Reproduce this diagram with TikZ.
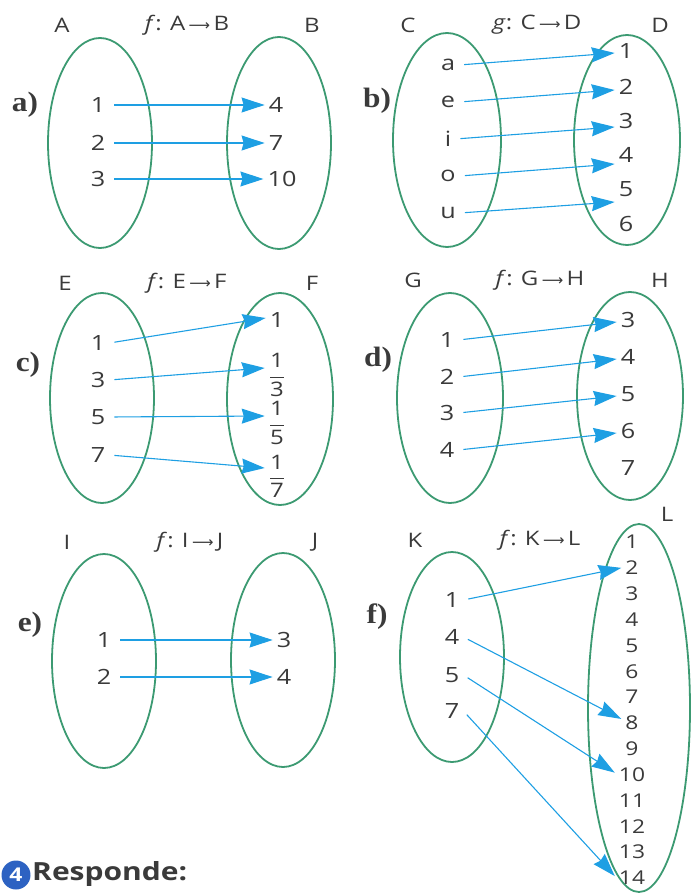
\documentclass[tikz,border=0pt]{standalone}
\usepackage{fontspec}
\setmainfont{Open Sans}[FakeStretch=1.2]
\newfontfamily\symfont{DejaVu Sans}
\newfontfamily\partfont{Liberation Serif}[FakeStretch=1.12]
\usetikzlibrary{arrows.meta,shapes.geometric}
\definecolor{ell}{HTML}{3C9A72}
\definecolor{arr}{HTML}{1E9FE3}
\definecolor{txt}{HTML}{3A3A3A}
\definecolor{badge}{HTML}{2D62C2}
\newcommand{\fnar}{\,{\symfont\fontsize{15}{15}\selectfont ⟶}\,}
\newcommand{\myfr}[2]{$\displaystyle\frac{\hbox{#1}}{\hbox{#2}}$}
\begin{document}
\begin{tikzpicture}[x=1pt,y=-1pt,
  setell/.style={ellipse, draw=ell, line width=1.8pt, inner sep=0pt},
  el/.style={font=\fontsize{21}{22}\selectfont, text=txt, inner xsep=4pt, inner ysep=1pt},
  fr/.style={font=\fontsize{20}{21}\selectfont, text=txt, inner xsep=4pt, inner ysep=0pt},
  lst/.style={font=\fontsize{19}{20}\selectfont, text=txt, inner xsep=4pt, inner ysep=0pt},
  hdr/.style={font=\fontsize{20}{21}\selectfont, text=txt},
  part/.style={font=\fontsize{28}{30}\selectfont\partfont\bfseries, text=txt},
  map/.style={draw=arr, line width=1.1pt, shorten <=5pt,
    -{Stealth[length=23pt,width=15pt,inset=2pt]}}
]
\useasboundingbox (0,0) rectangle (693,893);

% ---------- a)
\node[hdr] (lA) at (62,25) {A};
\node[hdr] (fA) at (187,25) {\textit{f}: A\fnar B};
\node[hdr] (lB) at (312,25) {B};
\node[part] (pa) at (25,105) {a)};
\node[setell, minimum width=104pt, minimum height=210pt] (eA) at (100,143) {};
\node[setell, minimum width=104pt, minimum height=212pt] (eB) at (279,143) {};
\node[el] (a1) at (98,105) {1};
\node[el] (a2) at (98,143) {2};
\node[el] (a3) at (98,179) {3};
\node[el] (b4) at (276,105) {4};
\node[el] (b7) at (276,143) {7};
\node[el] (b10) at (282,179) {10};
\draw[map] (a1.east) -- (b4.west);
\draw[map] (a2.east) -- (b7.west);
\draw[map] (a3.east) -- (b10.west);

% ---------- b)
\node[hdr] (lC) at (408,25) {C};
\node[hdr] (fC) at (537,25) {\textit{g}: C\fnar D};
\node[hdr] (lD) at (660,25) {D};
\node[part] (pb) at (377,101) {b)};
\node[setell, minimum width=108pt, minimum height=214pt] (eC) at (447,140) {};
\node[setell, minimum width=106pt, minimum height=210pt] (eD) at (627,140) {};
\node[el] (ca) at (448,65) {a};
\node[el] (ce) at (448,102) {e};
\node[el] (ci) at (448,139) {i};
\node[el] (co) at (448,176) {o};
\node[el] (cu) at (448,213) {u};
\node[el] (d1) at (626,51) {1};
\node[el] (d2) at (626,87) {2};
\node[el] (d3) at (626,121) {3};
\node[el] (d4) at (626,155) {4};
\node[el] (d5) at (626,189) {5};
\node[el] (d6) at (626,224) {6};
\draw[map] (ca.east) -- ([yshift=-2pt]d1.west);
\draw[map] (ce.east) -- ([yshift=-3pt]d2.west);
\draw[map] (ci.east) -- ([yshift=-6pt]d3.west);
\draw[map] (co.east) -- ([yshift=-9pt]d4.west);
\draw[map] (cu.east) -- ([yshift=-13pt]d5.west);

% ---------- c)
\node[hdr] (lE) at (65,283) {E};
\node[hdr] (fE) at (187,283) {\textit{f}: E\fnar F};
\node[hdr] (lF) at (312,283) {F};
\node[part] (pc) at (28,365) {c)};
\node[setell, minimum width=104pt, minimum height=210pt] (eE) at (102,398) {};
\node[setell, minimum width=106pt, minimum height=212pt] (eF) at (280,399) {};
\node[el] (e1) at (98,343) {1};
\node[el] (e3) at (98,380) {3};
\node[el] (e5) at (98,417) {5};
\node[el] (e7) at (98,455) {7};
\node[el] (f1) at (277,320) {1};
\node[fr] (f3) at (277,375) {\myfr{1}{3}};
\node[fr] (f5) at (277,423) {\myfr{1}{5}};
\node[fr] (f7) at (277,476) {\myfr{1}{7}};
\draw[map] (e1.east) -- ([yshift=2pt]f1.west);
\draw[map] (e3.east) -- ([yshift=7pt]f3.west);
\draw[map] (e5.east) -- ([yshift=7pt]f5.west);
\draw[map] (e7.east) -- ([yshift=8pt]f7.west);

% ---------- d)
\node[hdr] (lG) at (413,280) {G};
\node[hdr] (fG) at (540,280) {\textit{f}: G\fnar H};
\node[hdr] (lH) at (660,280) {H};
\node[part] (pd) at (378,360) {d)};
\node[setell, minimum width=106pt, minimum height=210pt] (eG) at (450,398) {};
\node[setell, minimum width=106pt, minimum height=208pt] (eH) at (630,396) {};
\node[el] (g1) at (447,340) {1};
\node[el] (g2) at (447,377) {2};
\node[el] (g3) at (447,413) {3};
\node[el] (g4) at (447,450) {4};
\node[el] (h3) at (628,320) {3};
\node[el] (h4) at (628,357) {4};
\node[el] (h5) at (628,394) {5};
\node[el] (h6) at (628,431) {6};
\node[el] (h7) at (628,468) {7};
\draw[map] (g1.east) -- ([yshift=-2pt]h3.west);
\draw[map] (g2.east) -- ([yshift=-2pt]h4.west);
\draw[map] (g3.east) -- ([yshift=-2pt]h5.west);
\draw[map] (g4.east) -- ([yshift=-2pt]h6.west);

% ---------- e)
\node[hdr] (lI) at (67,542) {I};
\node[hdr] (fI) at (190,542) {\textit{f}: I\fnar J};
\node[hdr] (lJ) at (315,542) {J};
\node[part] (pe) at (30,625) {e)};
\node[setell, minimum width=104pt, minimum height=214pt] (eI) at (104,661) {};
\node[setell, minimum width=104pt, minimum height=214pt] (eJ) at (283,660) {};
\node[el] (i1) at (104,640) {1};
\node[el] (i2) at (104,677) {2};
\node[el] (j3) at (284,640) {3};
\node[el] (j4) at (284,677) {4};
\draw[map] (i1.east) -- (j3.west);
\draw[map] (i2.east) -- (j4.west);

% ---------- f)
\node[hdr] (lK) at (415,540) {K};
\node[hdr] (fK) at (540,540) {\textit{f}: K\fnar L};
\node[hdr] (lL) at (667,514) {L};
\node[part] (pf) at (377,617) {f)};
\node[setell, minimum width=104pt, minimum height=210pt] (eK) at (452,657) {};
\node[setell, minimum width=102pt, minimum height=368pt] (eL) at (639,708) {};
\node[el] (k1) at (452,600) {1};
\node[el] (k4) at (452,637) {4};
\node[el] (k5) at (452,675) {5};
\node[el] (k7) at (452,711) {7};
\foreach \k in {1,...,14}{
  \node[lst] (l\k) at (632,{542+(\k-1)*25.85}) {\k};
}
\draw[map] (k1.east) -- (l2.west);
\draw[map] (k4.east) -- ([yshift=4pt]l8.west);
\draw[map] (k5.east) -- ([yshift=2pt]l10.west);
\draw[map] (k7.east) -- ([yshift=2pt]l14.west);

% ---------- footer
\node[circle, fill=badge, text=white, minimum size=29pt, inner sep=0pt,
  font=\fontsize{19}{19}\selectfont\bfseries] (n4) at (16,875) {4};
\node[anchor=west, text=txt, inner sep=0pt,
  font=\fontsize{25}{27}\selectfont\bfseries] (resp) at (32,874) {Responde:};
\end{tikzpicture}
\end{document}
